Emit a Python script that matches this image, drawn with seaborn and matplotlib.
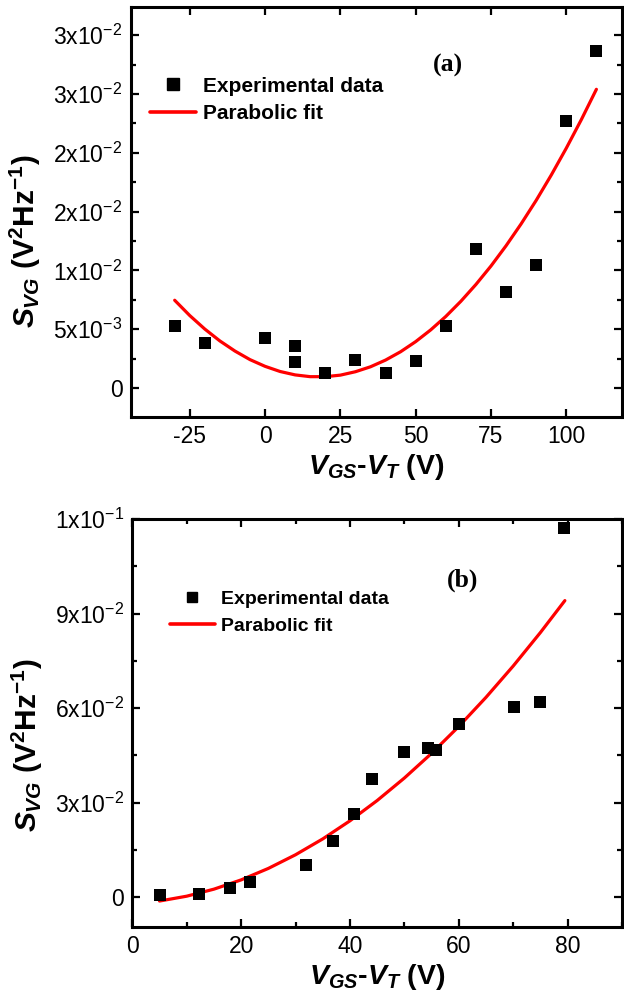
import numpy as np
import pandas as pd
import matplotlib
matplotlib.use("Agg")
import matplotlib.pyplot as plt
import seaborn as sns
from matplotlib.lines import Line2D
from matplotlib.ticker import FixedLocator, MultipleLocator

# ---------------- data (panel a) ----------------
xa_exp = [-30, -20, 0, 10, 10, 20, 30, 40, 50, 60, 70, 80, 90, 100, 110]
ya_exp = [5.23e-3, 3.86e-3, 4.26e-3, 3.57e-3, 2.17e-3, 1.31e-3, 2.34e-3, 1.31e-3,
          2.26e-3, 5.31e-3, 11.86e-3, 8.14e-3, 10.46e-3, 22.73e-3, 28.68e-3]
xa_fit = [-30, -25, -20, -15, -10, -5, 0, 5, 10, 15, 20, 25, 30, 35, 40, 45, 50,
          55, 60, 65, 70, 75, 80, 85, 90, 95, 100, 105, 110]
ya_fit_milli = [7.46, 6.16, 5.01, 4.00, 3.14, 2.41, 1.84, 1.40, 1.11, 0.96, 0.96,
                1.09, 1.38, 1.80, 2.37, 3.08, 3.94, 4.94, 6.08, 7.37, 8.80, 10.37,
                12.09, 13.95, 15.95, 18.10, 20.39, 22.82, 25.40]
ya_ticks = [0, 0.005, 0.010, 0.015, 0.020, 0.025, 0.030]
ya_ticklabels = ["0", "5x10$^{-3}$", "1x10$^{-2}$", "2x10$^{-2}$", "2x10$^{-2}$",
                 "3x10$^{-2}$", "3x10$^{-2}$"]
xa_ticks = [-25, 0, 25, 50, 75, 100]

# ---------------- data (panel b) ----------------
xb_exp = [5, 12.3, 18, 21.7, 32, 36.9, 40.7, 44, 50, 54.3, 55.9, 60, 70.1, 75, 79.3]
yb_exp = [0.0005, 0.0011, 0.0028, 0.0047, 0.0102, 0.0177, 0.0263, 0.0374, 0.0461,
          0.0474, 0.0468, 0.0550, 0.0604, 0.0618, 0.1170]
xb_fit = [5, 10, 15, 20, 25, 30, 35, 40, 45, 50, 55, 60, 65, 70, 75, 79.5]
yb_fit_centi = [-0.126, 0.028, 0.251, 0.545, 0.909, 1.343, 1.846, 2.42, 3.064,
                3.778, 4.561, 5.415, 6.339, 7.333, 8.396, 9.41]
yb_ticks = [0, 0.03, 0.06, 0.09, 0.12]
yb_ticklabels = ["0", "3x10$^{-2}$", "6x10$^{-2}$", "9x10$^{-2}$", "1x10$^{-1}$"]
xb_ticks = [0, 20, 40, 60, 80]

legend_labels = ["Experimental data", "Parabolic fit"]

# ---------------- style ----------------
sns.set_style("ticks")
plt.rcParams["font.family"] = ["Liberation Sans", "DejaVu Sans"]
plt.rcParams["mathtext.fontset"] = "custom"
plt.rcParams["mathtext.rm"] = "Liberation Sans"
plt.rcParams["mathtext.it"] = "Liberation Sans:italic:bold"
plt.rcParams["mathtext.bf"] = "Liberation Sans:bold"
plt.rcParams["text.color"] = "black"
plt.rcParams["axes.labelcolor"] = "black"
plt.rcParams["xtick.color"] = "black"
plt.rcParams["ytick.color"] = "black"

RED = "#ff0000"

fig = plt.figure(figsize=(6.24, 9.91), dpi=100)
fig.patch.set_facecolor("white")
ax1 = fig.add_axes([131 / 624, 1 - 417 / 991, 491 / 624, 410 / 991])
ax2 = fig.add_axes([132.3 / 624, 1 - 927 / 991, 489.7 / 624, 408 / 991])

dfa = pd.DataFrame({"x": xa_exp, "y": ya_exp})
dfa_fit = pd.DataFrame({"x": xa_fit, "y": np.array(ya_fit_milli) * 1e-3})
dfb = pd.DataFrame({"x": xb_exp, "y": yb_exp})
dfb_fit = pd.DataFrame({"x": xb_fit, "y": np.array(yb_fit_centi) * 1e-2})

for ax, de, df, ms in [(ax1, dfa, dfa_fit, 74), (ax2, dfb, dfb_fit, 64)]:
    sns.lineplot(data=df, x="x", y="y", ax=ax, color=RED, linewidth=2.3,
                 sort=False, estimator=None, zorder=2)
    sns.scatterplot(data=de, x="x", y="y", ax=ax, marker="s", s=ms, color="black",
                    linewidth=0, zorder=3)

def style(ax):
    ax.set_facecolor("white")
    for sp in ax.spines.values():
        sp.set_visible(True)
        sp.set_linewidth(2.2)
        sp.set_color("black")
    ax.tick_params(which="both", direction="in", top=True, right=True,
                   color="black", labelcolor="black", width=1.6)
    ax.tick_params(which="major", length=6, labelsize=16.5, pad=6)
    ax.tick_params(which="minor", length=3.6)

style(ax1)
style(ax2)

# panel a axes
ax1.set_xlim(-44.5, 118.5)
ax1.set_ylim(-2.47e-3, 3.24e-2)
ax1.xaxis.set_major_locator(FixedLocator(xa_ticks))
ax1.set_xticklabels([str(t) for t in xa_ticks])
ax1.yaxis.set_major_locator(FixedLocator(ya_ticks))
ax1.set_yticklabels(ya_ticklabels)
ax1.yaxis.set_minor_locator(MultipleLocator(0.0025))

# panel b axes
ax2.set_xlim(0, 90)
ax2.set_ylim(-0.0095, 0.12)
ax2.xaxis.set_major_locator(FixedLocator(xb_ticks))
ax2.set_xticklabels([str(t) for t in xb_ticks])
ax2.xaxis.set_minor_locator(MultipleLocator(10))
ax2.yaxis.set_major_locator(FixedLocator(yb_ticks))
ax2.set_yticklabels(yb_ticklabels)
ax2.yaxis.set_minor_locator(MultipleLocator(0.015))

xlabel = r"$V_{GS}$-$V_{T}$ (V)"
ylabel = r"$S_{VG}$ (V$^{\mathbf{2}}$Hz$^{\mathbf{-1}}$)"
for ax, ly in [(ax1, 0.43), (ax2, 0.446)]:
    ax.set_xlabel(xlabel, fontsize=20.5, fontweight="bold", labelpad=3, color="black")
    ax.set_ylabel(ylabel, fontsize=21.5, fontweight="bold", color="black")
    ax.yaxis.set_label_coords(-0.179, ly)

# legends
def add_legend(ax, anchor, size, ms, hl, htp, ls):
    h = [Line2D([], [], marker="s", color="black", linestyle="none", markersize=ms),
         Line2D([], [], color=RED, linewidth=2.6)]
    leg = ax.legend(h, legend_labels, loc="upper left", bbox_to_anchor=anchor,
                    frameon=False, prop={"weight": "bold", "size": size},
                    handlelength=hl, handletextpad=htp, labelspacing=ls,
                    borderpad=0, borderaxespad=0)
    for t in leg.get_texts():
        t.set_color("black")

add_legend(ax1, (0.0387, 0.8300), 15, 8.5, 2.2, 0.35, 0.40)
add_legend(ax2, (0.077, 0.8250), 14, 7.5, 2.3, 0.3, 0.48)

ax1.text(0.6456, 0.8585, "(a)", transform=ax1.transAxes, ha="center", va="center",
         fontsize=18.5, fontweight="bold", family="Liberation Serif", color="black")
ax2.text(0.6737, 0.8505, "(b)", transform=ax2.transAxes, ha="center", va="center",
         fontsize=18.5, fontweight="bold", family="Liberation Serif", color="black")

fig.savefig("out.png", dpi=100, facecolor="white")
